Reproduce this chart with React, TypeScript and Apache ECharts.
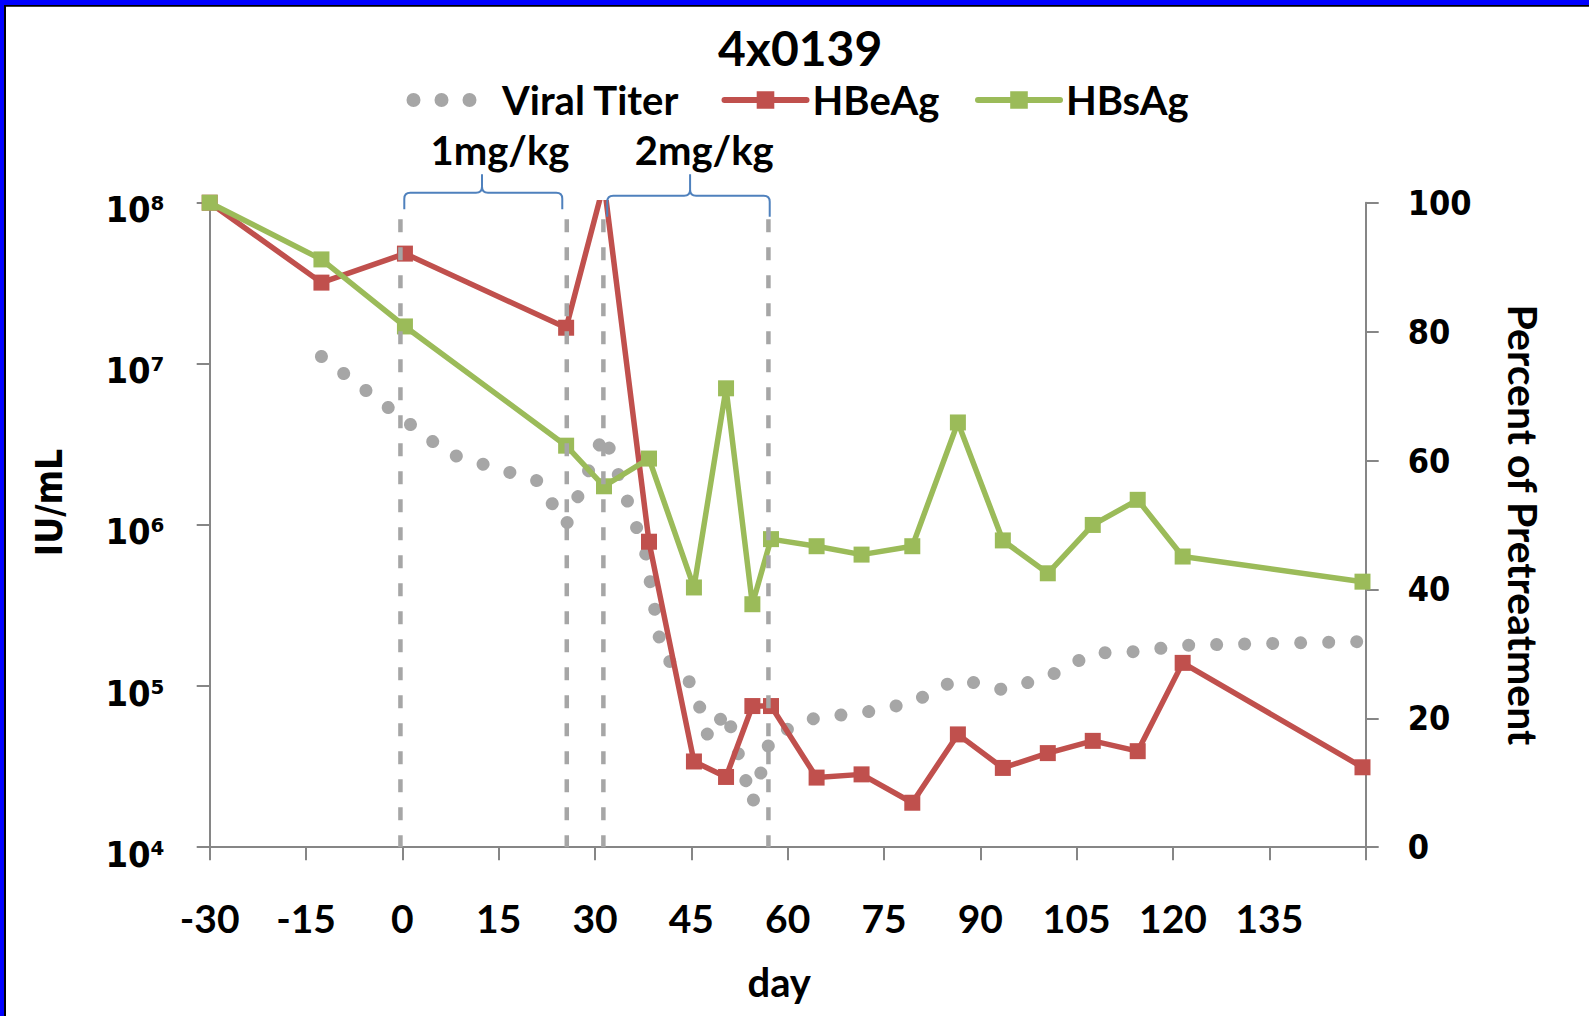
import React, { useEffect, useRef } from "react";
import * as echarts from "echarts";

const W = 1589;
const H = 1016;

const TITLE = "4x0139";
const X_NAME = "day";
const Y_LEFT_NAME = "IU/mL";
const Y_RIGHT_NAME = "Percent of Pretreatment";
const SERIES_NAMES = ["Viral Titer", "HBeAg", "HBsAg"];

const X_MIN = -30;
const X_MAX = 150;
const X_STEP = 15;
const LOG_MIN = 1e4;
const LOG_MAX = 1e8;
const PCT_MIN = 0;
const PCT_MAX = 100;
const PCT_STEP = 20;

// Viral titer (IU/mL, left log axis): vertices of the dotted line
const viralDays = [-12.6, 7.2, 21.0, 25.5, 31.4, 37.9, 40.4, 45.4, 47.7, 50.4, 54.5, 57.4, 64.5, 71.5, 79.4, 86.5, 93.5, 100.5, 107.5, 114.5, 121.5, 149.5];
const viralTiter = [1.11e7, 2.77e6, 1.88e6, 1.0e6, 3.7e6, 6.6e5, 1.6e5, 9.9e4, 4.7e4, 7.1e4, 1.86e4, 4.9e4, 6.4e4, 6.8e4, 7.9e4, 1.11e5, 9.5e4, 1.14e5, 1.6e5, 1.64e5, 1.79e5, 1.89e5];

// HBeAg / HBsAg (percent of pretreatment, right axis)
const antigenDays = [-30, -12.6, 0.4, 25.5, 31.4, 38.4, 45.4, 50.4, 54.5, 57.4, 64.5, 71.5, 79.4, 86.5, 93.5, 100.5, 107.5, 114.5, 121.5, 149.5];
const hbeagPct = [100, 87.6, 92.1, 80.6, 103, 47.4, 13.3, 10.9, 21.9, 21.9, 10.8, 11.3, 6.9, 17.5, 12.3, 14.6, 16.5, 14.9, 28.6, 12.4];
const hbsagPct = [100, 91.2, 80.8, 62.3, 56.0, 60.3, 40.3, 71.2, 37.7, 47.8, 46.7, 45.4, 46.7, 65.9, 47.6, 42.5, 50.0, 53.9, 45.1, 41.2];

// Dosing annotations
const doseLineDays = [-0.3, 25.6, 31.3, 57.0];
const doseLineTop = 7.9e7;
const bracketStart = [0.3, 31.9];
const bracketEnd = [24.9, 57.2];
const bracketTip = [12.4, 44.8];
const doseLabels = ["1mg/kg", "2mg/kg"];
const doseLabelDay = [15.2, 47.0];

// styling
const RED = "#C0504D";
const GREEN = "#9BBB59";
const GRAY = "#A6A6A6";
const AXIS = "#868686";
const BRACE = "#4F81BD";
const FONT = "Lato";
const NUM_FONT = "'DejaVu Sans Condensed', 'DejaVu Sans'";
const BRACKET_BAR = [-10, -7];
const BRACKET_FOOT = [6.6, 14];
const BRACKET_TIP_OFF = -28.4;
const LABEL_OFF = -52.5;
const BR_R = 6;

const SUP: Record<string, string> = { "0": "⁰", "1": "¹", "2": "²", "3": "³", "4": "⁴", "5": "⁵", "6": "⁶", "7": "⁷", "8": "⁸", "9": "⁹" };

const DOTS_ICON =
  "path://M0,11 a7,7 0 1,0 14,0 a7,7 0 1,0 -14,0 Z" +
  " M28,11 a7,7 0 1,0 14,0 a7,7 0 1,0 -14,0 Z" +
  " M56,11 a7,7 0 1,0 14,0 a7,7 0 1,0 -14,0 Z" +
  " M0,0 L0.01,0 L0.01,0.01 Z M81.99,21.99 L82,21.99 L82,22 Z";

export default function App() {
  const ref = useRef<HTMLDivElement>(null);

  useEffect(() => {
    document.body.style.margin = "0";
    if (!ref.current) return;
    const chart = echarts.init(ref.current, undefined, { renderer: "svg" });

    const legendBase = {
      orient: "horizontal",
      top: 80,
      padding: 0,
      itemWidth: 82,
      itemHeight: 22,
      selectedMode: false,
      textStyle: { fontFamily: FONT, fontWeight: "bold", fontSize: 40, color: "#000" },
    };

    const axisLine = { show: true, onZero: false, lineStyle: { color: AXIS, width: 2 } };
    const axisTick = { show: true, length: 13, lineStyle: { color: AXIS, width: 2 } };

    const option: any = {
      animation: false,
      backgroundColor: "#fff",
      title: {
        text: TITLE,
        left: 718,
        top: 23,
        padding: 0,
        textStyle: { fontFamily: FONT, fontWeight: "bold", fontSize: 48, color: "#000" },
      },
      legend: [
        {
          ...legendBase,
          left: 406.5,
          data: [{ name: SERIES_NAMES[0], icon: DOTS_ICON, textStyle: { padding: [0, 0, 0, 8.5] } }],
        },
        {
          ...legendBase,
          left: 721.5,
          lineStyle: { width: 6, cap: "round" },
          data: [{ name: SERIES_NAMES[1], textStyle: { padding: [0, 0, 0, 1] } }],
        },
        {
          ...legendBase,
          left: 975,
          lineStyle: { width: 6, cap: "round" },
          data: [{ name: SERIES_NAMES[2], textStyle: { padding: [0, 0, 0, 1] } }],
        },
      ],
      grid: { left: 209.7, top: 202.7, width: 1156, height: 644.5, outerBoundsMode: "none" },
      xAxis: {
        type: "value",
        min: X_MIN,
        max: X_MAX,
        interval: X_STEP,
        axisLine,
        axisTick,
        splitLine: { show: false },
        axisLabel: {
          formatter: (v: number) => (v === X_MAX ? "" : String(v)),
          margin: 51,
          fontFamily: FONT,
          fontWeight: "bold",
          fontSize: 39,
          color: "#000",
        },
        name: X_NAME,
        nameLocation: "middle",
        nameGap: 115,
        nameMoveOverlap: false,
        nameTextStyle: { fontFamily: FONT, fontWeight: "bold", fontSize: 40, color: "#000", padding: [0, 17, 0, 0] },
      },
      yAxis: [
        {
          type: "log",
          logBase: 10,
          min: LOG_MIN,
          max: LOG_MAX,
          splitNumber: 4,
          position: "left",
          axisLine,
          axisTick,
          minorTick: { show: false },
          splitLine: { show: false },
          axisLabel: {
            formatter: (v: number) => {
              const e = String(Math.round(Math.log10(v)));
              return "{p|10" + e.split("").map((c) => SUP[c] || c).join("") + "}";
            },
            margin: 45,
            color: "#000",
            rich: {
              p: {
                fontFamily: NUM_FONT,
                fontWeight: "bold",
                fontSize: 36,
                color: "#000",
                padding: [14, 0, 0, 0],
              },
            },
          },
          name: Y_LEFT_NAME,
          nameLocation: "middle",
          nameRotate: 90,
          nameGap: 142,
          nameMoveOverlap: false,
          nameTextStyle: { fontFamily: NUM_FONT, fontWeight: "bold", fontSize: 37, color: "#000", padding: [0, 0, 0, 45] },
        },
        {
          type: "value",
          min: PCT_MIN,
          max: PCT_MAX,
          interval: PCT_STEP,
          position: "right",
          axisLine,
          axisTick,
          splitLine: { show: false },
          axisLabel: { margin: 42, fontFamily: NUM_FONT, fontWeight: "bold", fontSize: 34, color: "#000" },
          name: Y_RIGHT_NAME,
          nameLocation: "middle",
          nameRotate: -90,
          nameGap: 137,
          nameMoveOverlap: false,
          nameTextStyle: { fontFamily: FONT, fontWeight: "bold", fontSize: 41, color: "#000" },
        },
      ],
      series: [
        {
          name: SERIES_NAMES[0],
          type: "line",
          yAxisIndex: 0,
          data: viralDays.map((d, i) => [d, viralTiter[i]]),
          symbol: "none",
          showSymbol: false,
          lineStyle: { color: GRAY, width: 13, type: [0.01, 28], cap: "round", join: "round" },
          itemStyle: { color: GRAY },
          z: 2,
        },
        {
          name: SERIES_NAMES[1],
          type: "line",
          yAxisIndex: 1,
          data: antigenDays.map((d, i) => [d, hbeagPct[i]]),
          symbol: "rect",
          symbolSize: 16,
          lineStyle: { color: RED, width: 5.5 },
          itemStyle: { color: RED },
          z: 3,
        },
        {
          name: SERIES_NAMES[2],
          type: "line",
          yAxisIndex: 1,
          data: antigenDays.map((d, i) => [d, hbsagPct[i]]),
          symbol: "rect",
          symbolSize: 16,
          lineStyle: { color: GREEN, width: 5.5 },
          itemStyle: { color: GREEN },
          z: 4,
        },
        {
          name: "doseLines",
          type: "custom",
          xAxisIndex: 0,
          yAxisIndex: 0,
          clip: false,
          silent: true,
          z: 5,
          encode: { x: 0, y: 1 },
          data: doseLineDays.map((d) => [d, doseLineTop, LOG_MIN]),
          renderItem: (params: any, api: any) => {
            const p1 = api.coord([api.value(0), api.value(1)]);
            const p2 = api.coord([api.value(0), api.value(2)]);
            return {
              type: "line",
              shape: { x1: p1[0], y1: p1[1], x2: p2[0], y2: p2[1] },
              style: { stroke: GRAY, lineWidth: 4.5, lineDash: [13, 15], fill: "none" },
            };
          },
        },
        {
          name: "dosing",
          type: "custom",
          xAxisIndex: 0,
          yAxisIndex: 0,
          clip: false,
          silent: true,
          z: 6,
          encode: { x: 0, y: 1 },
          data: bracketStart.map((s, i) => [s, LOG_MAX, bracketEnd[i], bracketTip[i], doseLabelDay[i]]),
          renderItem: (params: any, api: any) => {
            const i = params.dataIndex;
            const top = api.coord([api.value(0), LOG_MAX])[1];
            const xL = api.coord([api.value(0), LOG_MAX])[0];
            const xR = api.coord([api.value(2), LOG_MAX])[0];
            const xc = api.coord([api.value(3), LOG_MAX])[0];
            const xLab = api.coord([api.value(4), LOG_MAX])[0];
            const h = top + BRACKET_BAR[i];
            const e = top + BRACKET_FOOT[i];
            const t = top + BRACKET_TIP_OFF;
            const r = BR_R;
            const d =
              `M${xL},${e} L${xL},${h + r} Q${xL},${h} ${xL + r},${h} L${xc - r},${h} Q${xc},${h} ${xc},${h - r} L${xc},${t} ` +
              `M${xc},${t} L${xc},${h - r} Q${xc},${h} ${xc + r},${h} L${xR - r},${h} Q${xR},${h} ${xR},${h + r} L${xR},${e}`;
            return {
              type: "group",
              children: [
                {
                  type: "path",
                  shape: { pathData: d },
                  style: { stroke: BRACE, lineWidth: 2, fill: "none" },
                },
                {
                  type: "text",
                  x: xLab,
                  y: top + LABEL_OFF,
                  style: {
                    text: doseLabels[i],
                    fontFamily: FONT,
                    fontWeight: "bold",
                    fontSize: 40,
                    fill: "#000",
                    align: "center",
                    verticalAlign: "middle",
                  },
                },
              ],
            };
          },
        },
      ],
      graphic: [
        { type: "rect", shape: { x: 0, y: 0, width: W, height: 5 }, style: { fill: "#0000FF" }, z: 100 },
        { type: "rect", shape: { x: 0, y: 5, width: W, height: 1.7 }, style: { fill: "#000" }, z: 100 },
        { type: "rect", shape: { x: 0, y: 0, width: 4, height: H }, style: { fill: "#0000FF" }, z: 100 },
        { type: "rect", shape: { x: 4, y: 5, width: 2, height: H - 5 }, style: { fill: "#000" }, z: 100 },
      ],
    };

    chart.setOption(option);
    return () => chart.dispose();
  }, []);

  return <div ref={ref} style={{ width: W, height: H, background: "#fff" }} />;
}
